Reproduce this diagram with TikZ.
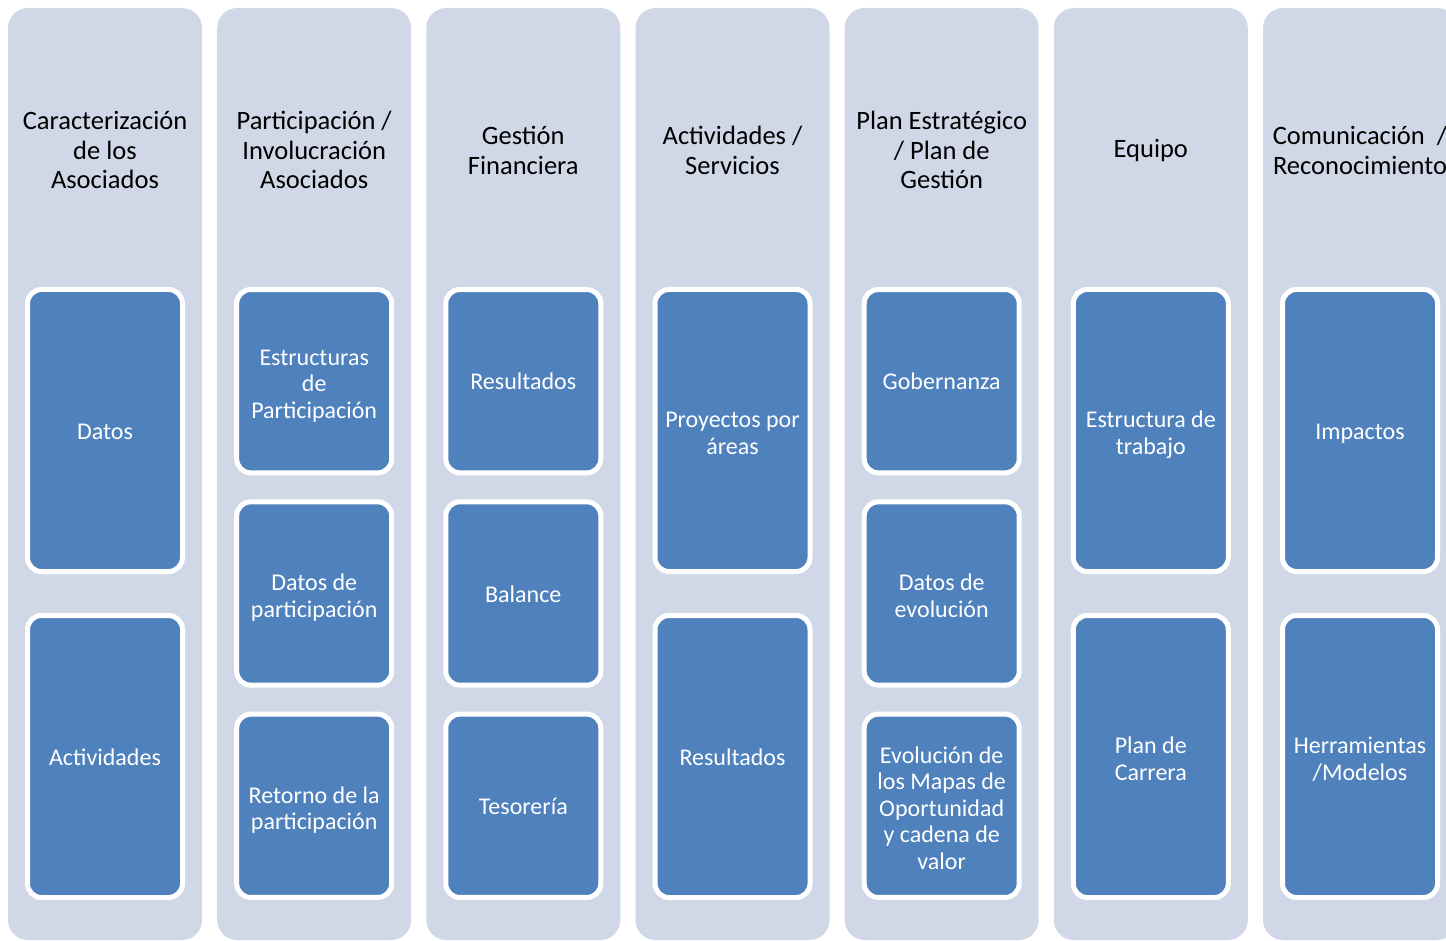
\documentclass[tikz,border=0pt]{standalone}
\usepackage{fontspec}
\setmainfont{Carlito}
\definecolor{colbg}{HTML}{D0D8E8}
\definecolor{boxblue}{HTML}{4F81BD}
\newcommand\vstrut{\rule[-0.25em]{0pt}{1.22em}}
\newcommand\mstrut{\rule{0pt}{\dimexpr0.97em+3.7pt\relax}}
\begin{document}
\begin{tikzpicture}[x=1pt,y=-1pt,
 column/.style={fill=colbg, rounded corners=20pt, minimum width=194pt, minimum height=932pt, inner sep=0pt},
 header/.style={align=center, font=\fontsize{26.5}{29.5}\selectfont, text=black, inner sep=0pt,
   execute at begin node=\vstrut, execute at end node=\vstrut},
 item/.style={fill=boxblue, draw=white, line width=5pt, rounded corners=14pt, minimum width=155pt, text=white, align=center, font=\fontsize{24}{26.5}\selectfont, inner sep=2pt,
   execute at begin node=\vstrut, execute at end node=\vstrut},
 tall/.style={item, minimum height=282pt},
 short/.style={item, minimum height=183.3pt}]
\useasboundingbox (0,0) rectangle (1446,941);
\fill[white] (0,0) rectangle (1446,941);
\clip (0,0) rectangle (1446,941);
% columns
\node[column] (c1) at (105,474) {};
\node[column] (c2) at (314.2,474) {};
\node[column] (c3) at (523.3,474) {};
\node[column] (c4) at (732.5,474) {};
\node[column] (c5) at (941.7,474) {};
\node[column] (c6) at (1150.8,474) {};
\node[column] (c7) at (1360,474) {};
% headers
\node[header] (h1) at (105,148) {\mstrut Caracterización\\de los\\Asociados};
\node[header] (h2) at (314.2,148) {\mstrut Participación /\\Involucración\\Asociados};
\node[header] (h3) at (523.3,148) {\mstrut Gestión\\Financiera};
\node[header] (h4) at (732.5,148) {\mstrut Actividades /\\Servicios};
\node[header] (h5) at (941.7,148) {\mstrut Plan Estratégico\\/ Plan de\\Gestión};
\node[header] (h6) at (1150.8,148) {Equipo};
\node[header] (h7) at (1360,148) {\mstrut Comunicación\ \ /\\Reconocimiento};
% column 1
\node[tall] (b11) at (105,430.5) {Datos};
\node[tall] (b12) at (105,756.5) {Actividades};
% column 2
\node[short] (b21) at (314.2,381.2) {\mstrut Estructuras\\de\\Participación};
\node[short] (b22) at (314.2,593.5) {\mstrut Datos de\\participación};
\node[short] (b23) at (314.2,805.8) {\mstrut Retorno de la\\participación};
% column 3
\node[short] (b31) at (523.3,381.2) {Resultados};
\node[short] (b32) at (523.3,593.5) {Balance};
\node[short] (b33) at (523.3,805.8) {Tesorería};
% column 4
\node[tall] (b41) at (732.5,430.5) {\mstrut Proyectos por\\áreas};
\node[tall] (b42) at (732.5,756.5) {Resultados};
% column 5
\node[short] (b51) at (941.7,381.2) {Gobernanza};
\node[short] (b52) at (941.7,593.5) {\mstrut Datos de\\evolución};
\node[short] (b53) at (941.7,805.8) {\mstrut Evolución de\\los Mapas de\\Oportunidad\\y cadena de\\valor};
% column 6
\node[tall] (b61) at (1150.8,430.5) {\mstrut Estructura de\\trabajo};
\node[tall] (b62) at (1150.8,756.5) {\mstrut Plan de\\Carrera};
% column 7
\node[tall] (b71) at (1360,430.5) {Impactos};
\node[tall] (b72) at (1360,756.5) {\mstrut Herramientas\\/Modelos};
\end{tikzpicture}
\end{document}
